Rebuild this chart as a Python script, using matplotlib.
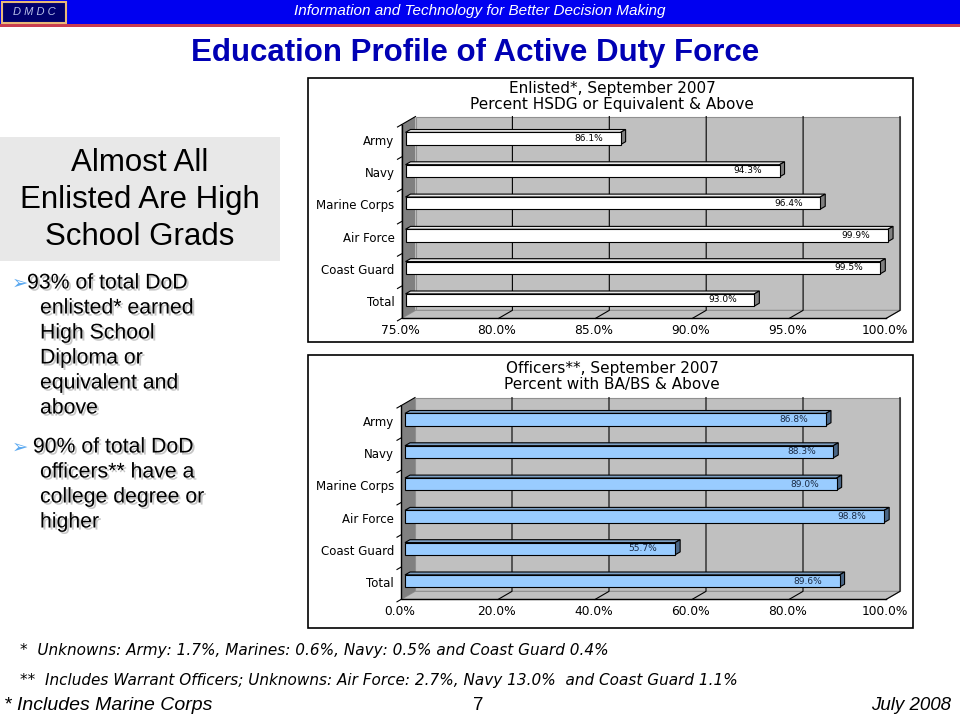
import matplotlib
matplotlib.use("Agg")
import matplotlib.pyplot as plt
import matplotlib.patheffects as pe
from matplotlib.patches import Rectangle, Polygon
import numpy as np

# ---- data -------------------------------------------------------------
categories = ["Army", "Navy", "Marine Corps", "Air Force", "Coast Guard", "Total"]
enlisted_pct = [86.1, 94.3, 96.4, 99.9, 99.5, 93.0]
officer_pct = [86.8, 88.3, 89.0, 98.8, 55.7, 89.6]
enlisted_ticks = [75, 80, 85, 90, 95, 100]
officer_ticks = [0, 20, 40, 60, 80, 100]

W, H = 960, 720
fig = plt.figure(figsize=(W / 100, H / 100), dpi=100)
fig.patch.set_facecolor("white")

# background axes in pixel coordinates (y down)
bg = fig.add_axes([0, 0, 1, 1])
bg.set_xlim(0, W)
bg.set_ylim(H, 0)
bg.axis("off")

SANS = ["Liberation Sans", "DejaVu Sans"]
WIDE = ["DejaVu Sans"]

# header band
bg.add_patch(Rectangle((0, 0), W, 24, facecolor="#0000F0", edgecolor="none"))
bg.add_patch(Rectangle((0, 24), W, 2.5, facecolor="#C83C50", edgecolor="none"))
bg.add_patch(Rectangle((2, 1.5), 64, 21, facecolor="#00006E", edgecolor="#E8B878", lw=1.5))
bg.text(34, 12, "D M D C", ha="center", va="center", fontsize=8, style="italic",
        color="#B8C0E8", family=SANS)
bg.text(480, 11.5, "Information and Technology for Better Decision Making", ha="center",
        va="center", fontsize=11, style="italic", color="white", family=SANS)

# title
bg.text(475, 53, "Education Profile of Active Duty Force", ha="center", va="center",
        fontsize=22.5, fontweight="bold", color="#0000B4", family=SANS)

# left panel
bg.add_patch(Rectangle((0, 137), 280, 124, facecolor="#E8E8E8", edgecolor="none"))
for k, line in enumerate(["Almost All", "Enlisted Are High", "School Grads"]):
    bg.text(140, 163 + 37 * k, line, ha="center", va="center", fontsize=22.5,
            color="black", family=SANS)

shadow = [pe.withSimplePatchShadow(offset=(1.5, -1.5), shadow_rgbFace="#A0A0A0", alpha=0.6)]
bullets = [
    (283, ["93% of total DoD", "enlisted* earned", "High School", "Diploma or",
           "equivalent and", "above"], 27),
    (447, [" 90% of total DoD", "officers** have a", "college degree or", "higher"], 27),
]
for y0, lines, x_first in bullets:
    bg.text(12, y0, "\u27a2", ha="left", va="center", fontsize=14, color="#5AA8F0",
            family=["DejaVu Sans"])
    for k, line in enumerate(lines):
        bg.text(x_first if k == 0 else 40, y0 + 25 * k, line, ha="left", va="center",
                fontsize=15.3, color="black", family=SANS, path_effects=shadow)

# footnotes
bg.text(20, 650, "*  Unknowns: Army: 1.7%, Marines: 0.6%, Navy: 0.5% and Coast Guard 0.4%",
        ha="left", va="center", fontsize=11, style="italic", family=WIDE)
bg.text(20, 681, "**  Includes Warrant Officers; Unknowns: Air Force: 2.7%, Navy 13.0%  and Coast Guard 1.1%",
        ha="left", va="center", fontsize=11, style="italic", family=WIDE)
bg.text(4, 705, "* Includes Marine Corps", ha="left", va="center", fontsize=14,
        style="italic", family=SANS)
bg.text(478, 705, "7", ha="center", va="center", fontsize=13.5, family=SANS)
bg.text(951, 705, "July 2008", ha="right", va="center", fontsize=13.5, style="italic",
        family=SANS)

# chart frames
for (x0, y0, x1, y1) in [(308, 78, 913, 342), (308, 355, 913, 628)]:
    bg.add_patch(Rectangle((x0, y0), x1 - x0, y1 - y0, facecolor="white",
                           edgecolor="black", lw=1.2))

bg.text(612, 88, "Enlisted*, September 2007", ha="center", va="center", fontsize=11,
        family=WIDE)
bg.text(612, 104, "Percent HSDG or Equivalent & Above", ha="center", va="center",
        fontsize=11, family=WIDE)
bg.text(612, 368, "Officers**, September 2007", ha="center", va="center", fontsize=11,
        family=WIDE)
bg.text(612, 384, "Percent with BA/BS & Above", ha="center", va="center",
        fontsize=11, family=WIDE)


def chart(px_left, px_right, px_first, values, ticks, face, top, side, label_color):
    """3D-looking Excel style horizontal bar chart, bar plane = data coords."""
    spacing = 32.3
    n = len(categories)
    y_top = px_first - spacing / 2
    y_bot = px_first + spacing * (n - 0.5)
    ax = fig.add_axes([px_left / W, 1 - y_bot / H, (px_right - px_left) / W,
                       (y_bot - y_top) / H])
    xmin, xmax = ticks[0], ticks[-1]
    ax.set_xlim(xmin, xmax)
    ax.set_ylim(n - 0.5, -0.5)
    ax.axis("off")
    ppx = (px_right - px_left) / (xmax - xmin)
    ratio = 0.58

    def P(x, y, k):
        # shift a point k pixels in depth (right / up)
        return (x + k / ppx, y - k * ratio / spacing)

    kw = dict(clip_on=False)
    lo, hi = -0.5, n - 0.5
    back, front = 10, -4
    # back wall
    ax.add_patch(Polygon([P(xmin, lo, back), P(xmax, lo, back), P(xmax, hi, back),
                          P(xmin, hi, back)], facecolor="#C0C0C0", edgecolor="#909090",
                         lw=0.8, zorder=1, **kw))
    # floor
    ax.add_patch(Polygon([P(xmin, hi, front), P(xmax, hi, front), P(xmax, hi, back),
                          P(xmin, hi, back)], facecolor="#C0C0C0", edgecolor="#909090",
                         lw=0.8, zorder=1, **kw))
    # left wall
    ax.add_patch(Polygon([P(xmin, lo, front), P(xmin, lo, back), P(xmin, hi, back),
                          P(xmin, hi, front)], facecolor="#808080", edgecolor="none",
                         zorder=1, **kw))
    # gridlines on wall and floor
    for t in ticks[1:]:
        xs, ys = zip(P(t, lo, back), P(t, hi, back), P(t, hi, front))
        ax.plot(xs, ys, color="black", lw=0.8, zorder=2, **kw)
    # axis lines
    xs, ys = zip(P(xmin, lo, front), P(xmin, hi, front), P(xmax, hi, front))
    ax.plot(xs, ys, color="black", lw=1.0, zorder=5, **kw)
    xs, ys = zip(P(xmin, lo, front), P(xmin, lo, back))
    ax.plot(xs, ys, color="black", lw=0.8, zorder=2, **kw)
    # category ticks
    for b in np.arange(lo, hi + 0.01, 1.0):
        xs, ys = zip(P(xmin, b, front), P(xmin, b, front - 4))
        ax.plot(xs, ys, color="black", lw=0.8, zorder=5, **kw)
    # bars
    h = 12.2 / spacing
    d = 5
    for i, v in enumerate(values):
        yt, yb = i - h / 2, i + h / 2
        ax.add_patch(Polygon([P(xmin, yt, 0), P(v, yt, 0), P(v, yt, d), P(xmin, yt, d)],
                             facecolor=top, edgecolor="black", lw=0.8, zorder=3, **kw))
        ax.add_patch(Polygon([P(v, yt, 0), P(v, yb, 0), P(v, yb, d), P(v, yt, d)],
                             facecolor=side, edgecolor="black", lw=0.8, zorder=3, **kw))
        ax.add_patch(Rectangle((xmin, yt), v - xmin, h, facecolor=face,
                               edgecolor="black", lw=0.8, zorder=4, **kw))
        ax.text(v - 32 / ppx, i, f"{v:.1f}%", ha="center", va="center", fontsize=6.5,
                color=label_color, family=WIDE, zorder=6)
        lx, ly = P(xmin, i, front - 7)
        ax.text(lx, ly - 3.5 / spacing, categories[i], ha="right", va="center",
                fontsize=8.5, family=WIDE, zorder=6)
    for t in ticks:
        tx, ty = P(t, hi, front)
        ax.text(tx - 1.5 / ppx, ty + 12 / spacing, f"{t:.1f}%", ha="center",
                va="center", fontsize=8.8, family=WIDE, zorder=6)
    return ax


chart(405.5, 890, 138.5, enlisted_pct, enlisted_ticks,
      "white", "#E8E8E8", "#808080", "black")
chart(405.0, 890, 419.5, officer_pct, officer_ticks,
      "#99CCFF", "#7DA0C4", "#4A6686", "#1A2A44")

fig.savefig("out.png", dpi=100, facecolor="white")
